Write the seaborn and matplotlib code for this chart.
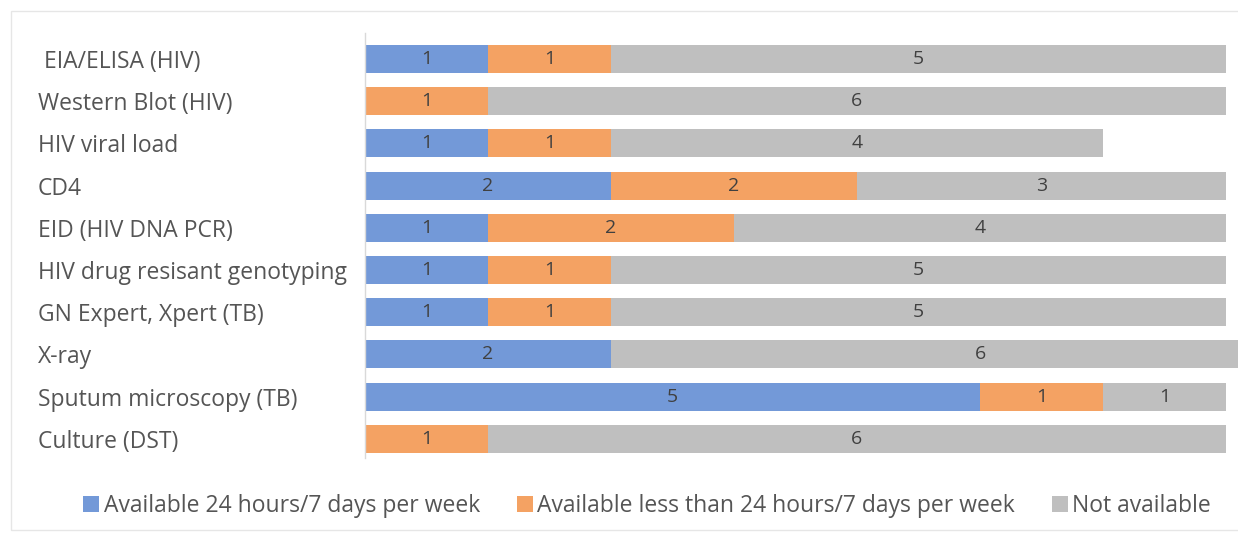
import matplotlib
matplotlib.use("Agg")
import matplotlib.pyplot as plt
import seaborn as sns
import numpy as np
import pandas as pd
from matplotlib.patches import Patch, Rectangle

categories = [" EIA/ELISA (HIV)", "Western Blot (HIV)", "HIV viral load", "CD4",
              "EID (HIV DNA PCR)", "HIV drug resisant genotyping", "GN Expert, Xpert (TB)",
              "X-ray", "Sputum microscopy (TB)", "Culture (DST)"]
avail_247 = [1, 0, 1, 2, 1, 1, 1, 2, 5, 0]
avail_less = [1, 1, 1, 2, 2, 1, 1, 0, 1, 1]
not_avail = [5, 6, 4, 3, 4, 5, 5, 6, 1, 6]
series_names = ["Available 24 hours/7 days per week",
                "Available less than 24 hours/7 days per week",
                "Not available"]

colors = ["#7399d8", "#f4a263", "#bfbfbf"]
text_color = "#404040"
label_color = "#555555"

sns.set_theme(style="white")
plt.rcParams["font.family"] = ["Open Sans", "DejaVu Sans"]

a = np.array(avail_247, dtype=float)
b = np.array(avail_less, dtype=float)
c = np.array(not_avail, dtype=float)
df = pd.DataFrame({"cat": categories, "c1": a, "c2": a + b, "c3": a + b + c})

fig = plt.figure(figsize=(12.38, 5.35), dpi=100)
ax = fig.add_axes([365 / 1238, 1 - 458 / 535, 1 - 365 / 1238, (458 - 33) / 535])

for col, colr in zip(["c3", "c2", "c1"], colors[::-1]):
    sns.barplot(data=df, x=col, y="cat", color=colr, width=0.66, ax=ax,
                saturation=1, orient="h", linewidth=0)

# segment labels
for i in range(len(categories)):
    starts = [0, a[i], a[i] + b[i]]
    vals = [a[i], b[i], c[i]]
    for s, v in zip(starts, vals):
        if v > 0:
            ax.text(s + v / 2, i, f"{int(v)}", ha="center", va="center",
                    fontsize=14, color=text_color, clip_on=True)

ax.set_xlim(0, (1238 - 365) / 123)
ax.set_ylim((458 - 59) / 42.2, (33 - 59) / 42.2)
ax.set_xlabel("")
ax.set_ylabel("")
ax.set_xticks([])
for sp in ["top", "right", "bottom"]:
    ax.spines[sp].set_visible(False)
ax.spines["left"].set_color("#d9d9d9")
ax.spines["left"].set_linewidth(1)
ax.tick_params(axis="y", length=0, pad=327 * 72 / 100, labelsize=16.5, labelcolor=label_color)
for lab in ax.get_yticklabels():
    lab.set_horizontalalignment("left")

handles = [Patch(facecolor=colr, edgecolor="none") for colr in colors]
fig.legend(handles, series_names, loc="center", bbox_to_anchor=(647 / 1238, 1 - 506 / 535),
           ncol=3, frameon=False, fontsize=16.5, labelcolor=label_color,
           handlelength=0.7, handleheight=0.7, handletextpad=0.2, columnspacing=1.6)

fig.patches.append(Rectangle((11 / 1238, 1 - 530 / 535), 1.2, (530 - 11) / 535,
                             transform=fig.transFigure, fill=False,
                             edgecolor="#e6e6e6", linewidth=1))

fig.savefig("out.png", dpi=100, facecolor="white")
